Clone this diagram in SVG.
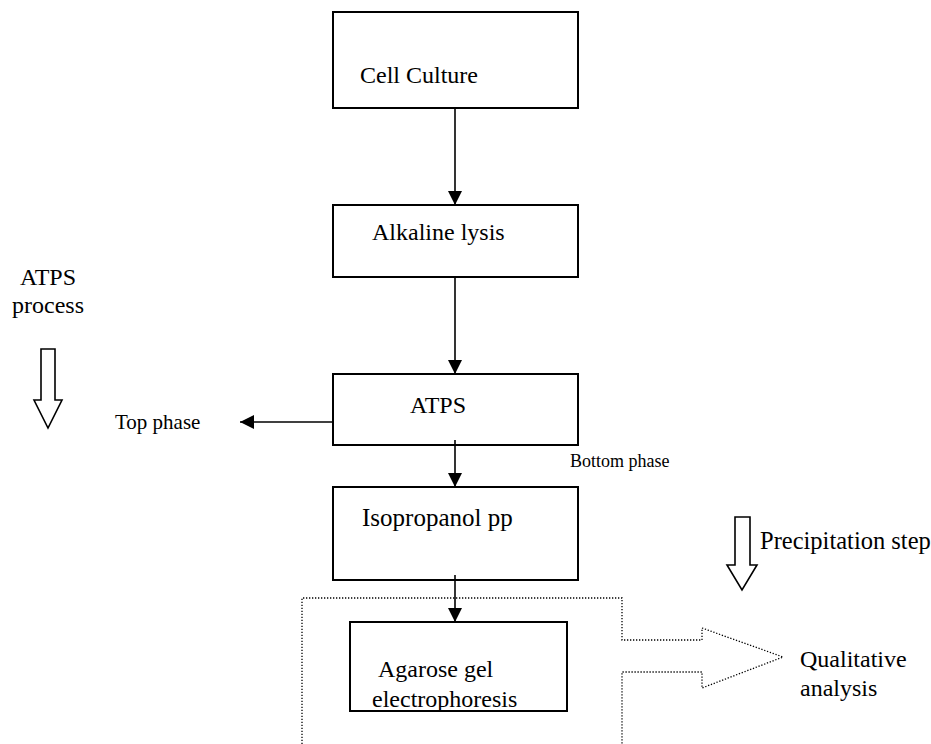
<svg xmlns="http://www.w3.org/2000/svg" width="931" height="744" viewBox="0 0 931 744">
<defs>
<style>
.box{fill:#fff;stroke:#000;stroke-width:2}
text{font-family:"Liberation Serif","Times New Roman","DejaVu Serif",serif;fill:#000}
.l{font-size:24px}
.c{stroke:#000;stroke-width:1.6;fill:none}
.hollow{fill:#fff;stroke:#000;stroke-width:1.6}
.dot{fill:none;stroke:#000;stroke-width:1.3;stroke-dasharray:1.3 1.7}
</style>
<marker id="ah" viewBox="0 0 10 10" refX="10" refY="5" markerWidth="14" markerHeight="14" markerUnits="userSpaceOnUse" orient="auto"><path d="M0,0 L10,5 L0,10 z" fill="#000"/></marker>
</defs>
<g id="dotted-region">
<path class="dot" d="M302,744 L302,598 L622,598 L622,640 L702,640 L702,628 L783,657 L702,688 L702,672 L622,672 L622,744"/>
</g>
<g id="cell-culture"><rect class="box" x="333" y="12" width="245" height="96"/><text class="l" x="360" y="83">Cell Culture</text></g>
<g id="alkaline-lysis"><rect class="box" x="333" y="205" width="245" height="72"/><text class="l" x="372" y="240">Alkaline lysis</text></g>
<g id="atps"><rect class="box" x="333" y="374" width="245" height="71"/><text class="l" x="410" y="413">ATPS</text></g>
<g id="isopropanol"><rect class="box" x="333" y="487" width="245" height="93"/><text style="font-size:25px" x="362" y="526">Isopropanol pp</text></g>
<g id="agarose"><rect class="box" x="350" y="622" width="217" height="89"/><text class="l" x="378" y="677">Agarose gel</text><text class="l" x="372" y="707">electrophoresis</text></g>
<g id="atps-process"><text class="l" x="48" y="285" text-anchor="middle">ATPS</text><text class="l" x="48" y="313" text-anchor="middle">process</text>
<path class="hollow" d="M41,349 L55,349 L55,400 L62,400 L48,428 L34,400 L41,400 z"/></g>
<g id="precipitation"><path class="hollow" d="M735,517 L750,517 L750,565 L757,565 L742,590 L727,565 L735,565 z"/><text style="font-size:24.5px" x="760" y="549">Precipitation step</text></g>
<g id="labels">
<text style="font-size:21px" x="115" y="429">Top phase</text>
<text style="font-size:18px" x="570" y="467">Bottom phase</text>
<text class="l" x="800" y="667">Qualitative</text>
<text class="l" x="800" y="696">analysis</text>
</g>
<g id="connectors">
<line class="c" x1="455" y1="108" x2="455" y2="205" marker-end="url(#ah)"/>
<line class="c" x1="455" y1="277" x2="455" y2="374" marker-end="url(#ah)"/>
<line class="c" x1="333" y1="422" x2="240" y2="422" marker-end="url(#ah)"/>
<line class="c" x1="455" y1="440" x2="455" y2="487" marker-end="url(#ah)"/>
<line class="c" x1="455" y1="575" x2="455" y2="622" marker-end="url(#ah)"/>
</g>
</svg>
